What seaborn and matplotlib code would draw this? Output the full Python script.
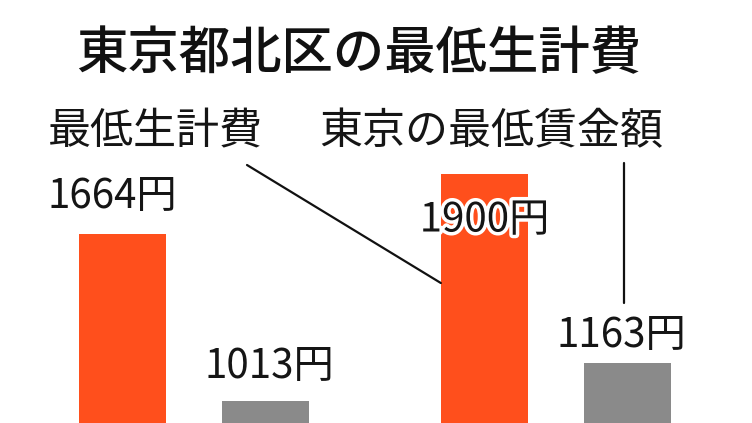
import pandas as pd
import matplotlib.pyplot as plt
import matplotlib.patheffects as pe
import seaborn as sns

# データ
cases = ["前回", "今回"]
series = ["最低生計費", "東京の最低賃金額"]
living_cost = [1664, 1900]
min_wage = [1013, 1163]

title = "東京都北区の最低生計費"
unit = "円"

df = pd.DataFrame({
    "case": cases * 2,
    "series": [series[0]] * len(cases) + [series[1]] * len(cases),
    "yen": living_cost + min_wage,
})

sns.set_style("white")
plt.rcParams['font.family'] = ['Noto Sans CJK JP', 'DejaVu Sans']

fig = plt.figure(figsize=(7.52, 4.23), dpi=100)
fig.patch.set_facecolor("white")
ax = fig.add_axes([0, 0, 1, 1])

colors = ["#FF4F1C", "#8A8A8A"]
sns.barplot(data=df, x="case", y="yen", hue="series", palette=colors,
            width=0.79, gap=0.39, saturation=1, linewidth=0,
            legend=False, ax=ax)

# 下端を切った表示
ax.set_ylim(927, 2580)
ax.set_xlim(-0.535, 1.541)
ax.axis("off")

# 値ラベル (横, 縦のずらし: ピクセル)
offsets = [[(-9.5, 38), (0, -46)],
           [(4, 34), (-6.5, 27)]]
for s, cont in enumerate(ax.containers):
    for c, bar in enumerate(cont):
        h = bar.get_height()
        dx, dy = offsets[s][c]
        t = ax.annotate(f"{h:.0f}{unit}", xy=(bar.get_x() + bar.get_width() / 2, h),
                        xytext=(dx, dy), textcoords="offset pixels",
                        ha="center", va="center", fontsize=29, color="#151515")
        if dy < 0:
            t.set_path_effects([pe.withStroke(linewidth=5, foreground="white")])

# タイトルと系列名
fig.text(0.477, 0.872, title, ha="center", va="center",
         fontsize=37, fontweight="medium", color="#111111")
fig.text(155 / 752, 1 - 132 / 423, series[0], ha="center", va="center",
         fontsize=31, color="#151515")
fig.text(491 / 752, 1 - 132 / 423, series[1], ha="center", va="center",
         fontsize=31, color="#151515")

# 引き出し線
bar_lc = ax.containers[0][1]
ax.annotate("", xy=(bar_lc.get_x(), 1474), xycoords="data",
            xytext=(247, 423 - 165), textcoords="figure pixels",
            arrowprops=dict(arrowstyle="-", color="#111111", lw=1.6,
                            shrinkA=0, shrinkB=0))
ax.annotate("", xy=(624, 423 - 303), xycoords="figure pixels",
            xytext=(624, 423 - 163), textcoords="figure pixels",
            arrowprops=dict(arrowstyle="-", color="#111111", lw=1.6,
                            shrinkA=0, shrinkB=0))

plt.savefig("out.png", dpi=100, facecolor="white")
